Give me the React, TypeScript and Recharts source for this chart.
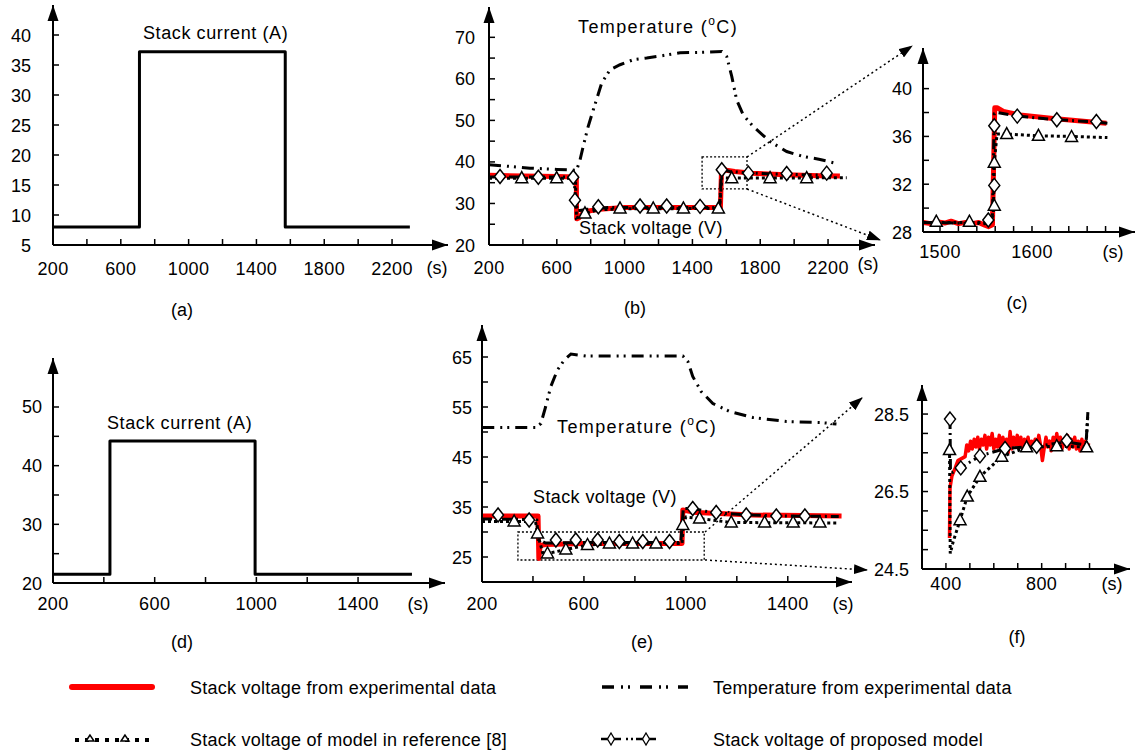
import React from 'react';
import { LineChart, Line, XAxis, YAxis, ReferenceDot, ReferenceArea } from 'recharts';

type Pt = [number, number];

const FONT = '"Liberation Sans", Arial, Helvetica, sans-serif';

// ---- (a) stack current, test 1
const currentA: Pt[] = [[200, 8], [710, 8], [710, 37.2], [1570, 37.2], [1570, 8], [2305, 8]];

// ---- (b) voltage + temperature, test 1
const tempB: Pt[] = [
  [200, 39.3], [300, 39], [442, 38.5], [600, 38.2], [717, 38.0], [737, 40.5], [755, 43.6], [784, 48.4],
  [815, 52.5], [865, 59], [914, 62.2], [973, 63.4], [1050, 64.6], [1130, 65], [1210, 65.5], [1327, 66.3],
  [1463, 66.4], [1573, 66.6], [1602, 65.4], [1632, 60.6], [1661, 54.9], [1700, 51.3], [1759, 48.5],
  [1858, 44.9], [1956, 42.5], [2054, 41.3], [2153, 40.6], [2241, 39.7],
];
const expB: Pt[] = [
  [200, 36.8], [400, 36.6], [600, 36.5], [715, 36.4], [717, 26.3], [730, 26.5], [760, 28.0], [850, 28.6],
  [1000, 29.0], [1200, 29.0], [1400, 29.0], [1565, 29.0], [1572, 38.6], [1600, 38.0], [1650, 37.7],
  [1750, 37.3], [1950, 36.9], [2150, 36.7], [2270, 36.6],
];
const refB: Pt[] = [
  [200, 36.1], [710, 36.1], [716, 26.5], [766, 27.6], [850, 28.5], [1000, 28.7], [1560, 28.8],
  [1573, 36.2], [1632, 36.1], [2310, 36.2],
];
const refMarksB: Pt[] = [
  [393, 36.1], [599, 36.1], [766, 27.6], [973, 28.8], [1169, 28.8], [1347, 28.8], [1553, 28.8],
  [1632, 36.1], [1858, 36.1], [2074, 36.1],
];
const propB: Pt[] = [
  [200, 36.4], [700, 36.4], [712, 30.8], [722, 28.2], [780, 28.6], [900, 29], [1560, 29], [1572, 38.2],
  [1620, 37.7], [1750, 37.3], [1950, 37], [2200, 36.8], [2240, 36.8],
];
const propMarksB: Pt[] = [
  [265, 36.5], [491, 36.3], [697, 36.3], [707, 30.8], [845, 29.2], [1091, 29.4], [1248, 29.4],
  [1445, 29.3], [1573, 38.1], [1730, 37.3], [1956, 37.2], [2192, 37.3],
];

// ---- (c) zoom of (b)
const expC: Pt[] = [
  [1482, 28.8], [1490, 28.7], [1498, 28.85], [1505, 28.75], [1512, 28.9], [1520, 28.7], [1528, 28.8],
  [1535, 28.7], [1542, 28.8], [1548, 28.6], [1553, 28.45], [1557, 28.6], [1559.5, 38.4], [1562, 38.4],
  [1569, 38.1], [1587, 37.8], [1623, 37.5], [1659, 37.25], [1681, 37.1],
];
const refC: Pt[] = [
  [1482, 28.8], [1555, 28.8], [1558, 29.5], [1559, 33.8], [1562, 36.2], [1572.5, 36.2], [1607, 36.05],
  [1643, 36.0], [1682, 35.9],
];
const refMarksC: Pt[] = [
  [1496, 28.86], [1532, 28.86], [1559, 33.8], [1559, 30.2], [1572.5, 36.2], [1607, 36.05], [1643, 35.95],
];
const propC: Pt[] = [
  [1482, 28.8], [1548, 28.7], [1553, 28.8], [1557, 29.2], [1559, 37.9], [1562, 38.0], [1584, 37.7],
  [1627, 37.4], [1670, 37.2], [1682, 37.1],
];
const propMarksC: Pt[] = [
  [1552.5, 29.0], [1559, 36.9], [1559, 31.9], [1584, 37.7], [1627, 37.4], [1670, 37.25],
];

// ---- (d) stack current, test 2
const currentD: Pt[] = [[200, 21.5], [424, 21.5], [424, 44.2], [995, 44.2], [995, 21.5], [1612, 21.5]];

// ---- (e) voltage + temperature, test 2
const tempE: Pt[] = [
  [201, 50.9], [411, 50.9], [431, 51.7], [450, 55.1], [470, 59.1], [496, 62.4], [523, 64.4], [549, 65.6],
  [608, 65.2], [739, 65.2], [844, 65.2], [988, 65.2], [1008, 64.1], [1027, 61.1], [1060, 58.1],
  [1106, 55.7], [1172, 54.1], [1263, 52.9], [1395, 52.1], [1526, 51.9], [1591, 51.6],
];
const expE: Pt[] = [
  [200, 33.2], [420, 33.2], [423, 24.7], [428, 27.3], [450, 27.5], [600, 27.7], [985, 27.7], [988, 34.4],
  [1041, 33.9], [1263, 33.4], [1611, 33.2],
];
const refE: Pt[] = [
  [200, 32.1], [410, 32.1], [418, 29.7], [440, 25.5], [457, 25.7], [529, 26.5], [614, 27.4], [700, 27.6],
  [985, 27.7], [990, 31.4], [1000, 33], [1054, 32.7], [1178, 31.9], [1600, 31.8],
];
const refMarksE: Pt[] = [
  [326, 32.1], [418, 29.7], [457, 25.7], [529, 26.5], [614, 27.4], [700, 27.7], [791, 27.7], [883, 27.7],
  [988, 31.4], [1054, 32.7], [1178, 31.9], [1309, 31.9], [1421, 31.9], [1526, 31.9],
];
const propE: Pt[] = [
  [200, 32.6], [400, 32.5], [415, 32.4], [420, 28.5], [450, 27.8], [600, 27.9], [980, 27.9], [990, 34.7],
  [1027, 34.7], [1100, 33.9], [1250, 33.4], [1400, 33.2], [1600, 33.1],
];
const propMarksE: Pt[] = [
  [263, 33.4], [385, 32.4], [490, 28.4], [568, 28.4], [654, 28.4], [739, 28.1], [831, 28.1], [936, 28.1],
  [1027, 34.7], [1119, 33.9], [1237, 33.4], [1355, 33.2], [1467, 33.2],
];

// ---- (f) zoom of (e)
const expF: Pt[] = [
  [415, 25.3], [417, 26.6], [425, 26.9], [438, 27.1], [450, 27.3], [465, 27.35], [480, 27.4], [487, 27.7],
  [495, 27.55], [503, 27.8], [510, 27.6], [518, 27.85], [525, 27.65], [533, 27.9], [540, 27.6], [548, 27.85],
  [555, 27.7], [563, 27.95], [570, 27.6], [578, 27.9], [585, 27.7], [593, 28.0], [600, 27.6], [608, 27.85],
  [615, 27.65], [623, 27.95], [630, 27.55], [638, 27.9], [645, 27.7], [653, 27.85], [660, 27.5], [668, 28.05],
  [675, 27.6], [683, 27.9], [690, 27.7], [698, 27.95], [705, 27.65], [713, 27.9], [720, 27.6], [728, 27.85],
  [735, 27.7], [743, 27.9], [750, 27.6], [758, 27.8], [765, 27.65], [773, 27.85], [780, 27.65], [788, 27.95],
  [795, 27.7], [803, 27.3], [810, 27.6], [818, 27.9], [825, 27.65], [833, 27.8], [840, 27.55], [848, 27.9],
  [855, 27.65], [863, 28.0], [870, 27.7], [878, 27.9], [885, 27.6], [893, 27.85], [900, 27.7], [908, 27.95],
  [915, 27.6], [923, 27.85], [930, 27.65], [938, 27.9], [945, 27.6], [953, 27.8], [960, 27.55], [968, 27.85],
  [975, 27.6], [983, 27.8], [990, 27.65], [997, 27.75],
];
const refF: Pt[] = [
  [415, 27.6], [418, 24.9], [430, 25.2], [459, 25.76], [489, 26.37], [542, 26.88], [633, 27.4], [737, 27.64],
  [863, 27.67], [985, 27.65], [993, 28.5],
];
const refMarksF: Pt[] = [
  [415, 27.57], [459, 25.76], [489, 26.37], [542, 26.88], [633, 27.4], [737, 27.64], [863, 27.67], [988, 27.64],
];
const propF: Pt[] = [
  [417, 28.37], [419, 27.0], [430, 27.0], [462, 27.11], [542, 27.42], [647, 27.61], [779, 27.67], [905, 27.78],
  [985, 27.7], [993, 28.55],
];
const propMarksF: Pt[] = [[417, 28.37], [462, 27.11], [542, 27.42], [647, 27.61], [779, 27.67], [905, 27.81]];

// tick lists
const range = (a: number, b: number, s: number) => {
  const out: number[] = [];
  for (let v = a; v <= b + 1e-9; v += s) out.push(Math.round(v * 100) / 100);
  return out;
};

const rows = (pts: Pt[]) => pts.map(([x, y]) => ({ x, y }));

const Tri = ({ cx, cy }: any) => (
  <polygon points={`${cx},${cy - 6.5} ${cx - 6},${cy + 4.5} ${cx + 6},${cy + 4.5}`} fill="#fff" stroke="#000" strokeWidth={1.5} />
);
const Dia = ({ cx, cy }: any) => (
  <polygon points={`${cx},${cy - 7} ${cx + 5.5},${cy} ${cx},${cy + 7} ${cx - 5.5},${cy}`} fill="#fff" stroke="#000" strokeWidth={1.5} />
);

const solid = (key: string, pts: Pt[], color: string, w: number) => (
  <Line key={key} data={rows(pts)} dataKey="y" stroke={color} strokeWidth={w} dot={false} activeDot={false}
    isAnimationActive={false} strokeLinejoin="round" />
);
const dashed = (key: string, pts: Pt[], dash: string, w = 3) => (
  <Line key={key} data={rows(pts)} dataKey="y" stroke="#000" strokeWidth={w} strokeDasharray={dash}
    dot={false} activeDot={false} isAnimationActive={false} />
);
const marks = (key: string, pts: Pt[], kind: 'tri' | 'dia') => (
  <Line key={key} data={rows(pts)} dataKey="y" stroke="none" activeDot={false} isAnimationActive={false}
    dot={(p: any) => (kind === 'tri' ? <Tri key={`${key}${p.index}`} cx={p.cx} cy={p.cy} /> : <Dia key={`${key}${p.index}`} cx={p.cx} cy={p.cy} />)} />
);

const TEMP_DASH = '12 6 2 5 2 6';
const REF_DASH = '3 3';
const PROP_DASH = '10 4 2 4';

const PAD = { l: 60, r: 24, t: 16, b: 50 };

const XTick = (props: any) => {
  const { x, y, payload, labels, dy } = props;
  return (
    <g>
      <line x1={x} y1={y} x2={x} y2={y - 6} stroke="#000" strokeWidth={1.5} />
      {labels.includes(payload.value) ? (
        <text x={x} y={y + dy} textAnchor="middle" fontSize={18} fontFamily={FONT} fill="#000" letterSpacing={0.4}>{payload.value}</text>
      ) : null}
    </g>
  );
};

const YTick = (props: any) => {
  const { x, y, payload, labels, dx } = props;
  return (
    <g>
      <line x1={x} y1={y} x2={x + 6} y2={y} stroke="#000" strokeWidth={1.5} />
      {labels.includes(payload.value) ? (
        <text x={x - dx} y={y + 6.5} textAnchor="end" fontSize={18} fontFamily={FONT} fill="#000">{payload.value}</text>
      ) : null}
    </g>
  );
};

const rightArrow = (p: any) => <path d={`M${p.cx},${p.cy} L${p.cx - 16},${p.cy - 5.5} L${p.cx - 16},${p.cy + 5.5} Z`} fill="#000" />;
const upArrow = (p: any) => <path d={`M${p.cx},${p.cy} L${p.cx - 5.5},${p.cy + 16} L${p.cx + 5.5},${p.cy + 16} Z`} fill="#000" />;

interface PanelProps {
  box: [number, number, number, number];
  xDomain: [number, number];
  yDomain: [number, number];
  xTicks: number[];
  xLabels: number[];
  yTicks: number[];
  yLabels: number[];
  xDy: number;
  yDx: number;
  children?: React.ReactNode;
}

const Panel = ({ box, xDomain, yDomain, xTicks, xLabels, yTicks, yLabels, xDy, yDx, children }: PanelProps) => {
  const [x0, y0, x1, y1] = box;
  const width = x1 - x0 + PAD.l + PAD.r;
  const height = y1 - y0 + PAD.t + PAD.b;
  return (
    <div style={{ position: 'absolute', left: x0 - PAD.l, top: y0 - PAD.t }}>
      <LineChart width={width} height={height} margin={{ top: PAD.t, right: PAD.r, bottom: 0, left: 0 }}>
        <XAxis type="number" dataKey="x" domain={xDomain} allowDataOverflow ticks={xTicks} interval={0}
          tickSize={0} tickMargin={0} height={PAD.b} tickLine={false}
          axisLine={{ stroke: '#000', strokeWidth: 2 }}
          tick={(p: any) => <XTick {...p} labels={xLabels} dy={xDy} />} />
        <YAxis type="number" dataKey="y" domain={yDomain} allowDataOverflow ticks={yTicks} interval={0}
          tickSize={0} tickMargin={0} width={PAD.l} tickLine={false}
          axisLine={{ stroke: '#000', strokeWidth: 2 }}
          tick={(p: any) => <YTick {...p} labels={yLabels} dx={yDx} />} />
        {children}
        <ReferenceDot x={xDomain[1]} y={yDomain[0]} r={0} ifOverflow="visible" shape={rightArrow} />
        <ReferenceDot x={xDomain[0]} y={yDomain[1]} r={0} ifOverflow="visible" shape={upArrow} />
      </LineChart>
    </div>
  );
};

const T = (props: any) => <text fontFamily={FONT} fontSize={18} fill="#000" {...props} />;

const App = () => (
  <div style={{ position: 'fixed', left: 0, top: 0, width: 1139, height: 753, background: '#fff', overflow: 'hidden' }}>
    <Panel box={[53, 5, 448, 245]} xDomain={[200, 2530]} yDomain={[5, 45]}
      xTicks={range(200, 2200, 200)} xLabels={[200, 600, 1000, 1400, 1800, 2200]}
      yTicks={range(5, 40, 5)} yLabels={range(5, 40, 5)} xDy={29.5} yDx={22}>
      {[solid('ia', currentA, '#000', 3)]}
    </Panel>

    <Panel box={[489, 7, 875, 245]} xDomain={[200, 2477]} yDomain={[20, 77.3]}
      xTicks={range(200, 2200, 200)} xLabels={[200, 600, 1000, 1400, 1800, 2200]}
      yTicks={range(20, 70, 5)} yLabels={range(20, 70, 10)} xDy={28.5} yDx={14}>
      {[
        dashed('tb', tempB, TEMP_DASH, 3),
        solid('eb', expB, '#ff0000', 5),
        dashed('rb', refB, REF_DASH, 3),
        dashed('pb', propB, PROP_DASH, 3),
        marks('rmb', refMarksB, 'tri'),
        marks('pmb', propMarksB, 'dia'),
        <ReferenceArea key="zb" x1={1457} x2={1722} y1={33.5} y2={41.2} ifOverflow="visible"
          fill="none" stroke="#000" strokeWidth={1.3} strokeDasharray="2 2" />,
      ]}
    </Panel>

    <Panel box={[923, 48, 1135, 232]} xDomain={[1481.5, 1712]} yDomain={[28, 43.4]}
      xTicks={range(1500, 1680, 20)} xLabels={[1500, 1600]}
      yTicks={range(28, 40, 2)} yLabels={[28, 32, 36, 40]} xDy={26} yDx={11}>
      {[
        solid('ec', expC, '#ff0000', 5),
        dashed('rc', refC, REF_DASH, 3),
        dashed('pc', propC, PROP_DASH, 3),
        marks('rmc', refMarksC, 'tri'),
        marks('pmc', propMarksC, 'dia'),
      ]}
    </Panel>

    <Panel box={[53, 358, 445, 583]} xDomain={[200, 1742]} yDomain={[20, 58.35]}
      xTicks={range(200, 1400, 200)} xLabels={[200, 600, 1000, 1400]}
      yTicks={range(20, 50, 5)} yLabels={[20, 30, 40, 50]} xDy={26.5} yDx={11}>
      {[solid('id', currentD, '#000', 3)]}
    </Panel>

    <Panel box={[482, 325, 852, 582]} xDomain={[200, 1652]} yDomain={[20, 71.4]}
      xTicks={range(200, 1400, 200)} xLabels={[200, 600, 1000, 1400]}
      yTicks={range(20, 65, 5)} yLabels={[25, 35, 45, 55, 65]} xDy={27.5} yDx={10}>
      {[
        dashed('te', tempE, TEMP_DASH, 3),
        solid('ee', expE, '#ff0000', 5),
        dashed('re', refE, REF_DASH, 3),
        dashed('pe', propE, PROP_DASH, 3),
        marks('rme', refMarksE, 'tri'),
        marks('pme', propMarksE, 'dia'),
        <ReferenceArea key="ze" x1={341} x2={1072} y1={24.4} y2={30} ifOverflow="visible"
          fill="none" stroke="#000" strokeWidth={1.3} strokeDasharray="2 2" />,
      ]}
    </Panel>

    <Panel box={[922, 385, 1130, 569]} xDomain={[300, 1169]} yDomain={[24.5, 29.25]}
      xTicks={range(400, 1000, 100)} xLabels={[400, 800]}
      yTicks={range(24.5, 28.5, 0.5)} yLabels={[24.5, 26.5, 28.5]} xDy={21} yDx={13}>
      {[
        solid('ef', expF, '#ff0000', 3.5),
        dashed('rf', refF, REF_DASH, 3),
        dashed('pf', propF, PROP_DASH, 3),
        marks('rmf', refMarksF, 'tri'),
        marks('pmf', propMarksF, 'dia'),
      ]}
    </Panel>

    <svg width={1139} height={753} style={{ position: 'absolute', left: 0, top: 0, pointerEvents: 'none' }}>
      <defs>
        <marker id="ah" viewBox="0 0 14 10" refX="13" refY="5" markerWidth="14" markerHeight="10"
          markerUnits="userSpaceOnUse" orient="auto">
          <path d="M0,0 L14,5 L0,10 Z" fill="#000" />
        </marker>
      </defs>

      {/* annotations */}
      <T x={143} y={39} letterSpacing={0.6}>Stack current (A)</T>
      <T x={107} y={429} letterSpacing={0.6}>Stack current (A)</T>
      <T x={578} y={33} letterSpacing={1.4}>Temperature (<tspan fontSize={12} dy={-8}>o</tspan><tspan dy={8}>C)</tspan></T>
      <T x={579} y={234} letterSpacing={0.4}>Stack voltage (V)</T>
      <T x={557} y={433} letterSpacing={1.4}>Temperature (<tspan fontSize={12} dy={-8}>o</tspan><tspan dy={8}>C)</tspan></T>
      <T x={533} y={503} letterSpacing={0.4}>Stack voltage (V)</T>

      {/* time units */}
      <T x={437} y={274} textAnchor="middle">(s)</T>
      <T x={868} y={269.5} textAnchor="middle">(s)</T>
      <T x={1113} y={258} textAnchor="middle">(s)</T>
      <T x={418} y={609.5} textAnchor="middle">(s)</T>
      <T x={843} y={609.5} textAnchor="middle">(s)</T>
      <T x={1112} y={590} textAnchor="middle">(s)</T>

      {/* panel letters */}
      <T x={182} y={316} textAnchor="middle">(a)</T>
      <T x={635} y={314} textAnchor="middle">(b)</T>
      <T x={1017} y={309} textAnchor="middle">(c)</T>
      <T x={182} y={648} textAnchor="middle">(d)</T>
      <T x={642} y={648} textAnchor="middle">(e)</T>
      <T x={1017} y={643} textAnchor="middle">(f)</T>

      {/* zoom connectors */}
      <g stroke="#000" strokeWidth={1.5} strokeDasharray="2 3" fill="none">
        <line x1={747} y1={157} x2={912} y2={46} markerEnd="url(#ah)" />
        <line x1={747} y1={189} x2={880} y2={240} markerEnd="url(#ah)" />
        <line x1={705} y1={532} x2={862} y2={398} markerEnd="url(#ah)" />
        <line x1={705} y1={560} x2={867} y2={570} markerEnd="url(#ah)" />
      </g>

      {/* legend */}
      <line x1={72} y1={687} x2={152} y2={687} stroke="#ff0000" strokeWidth={6} strokeLinecap="round" />
      <T x={190} y={693.5} letterSpacing={0.25}>Stack voltage from experimental data</T>

      <line x1={602} y1={687} x2={688} y2={687} stroke="#000" strokeWidth={3.5} strokeDasharray="12 7 2 5 2 10" />
      <T x={713} y={693.5} letterSpacing={0.25}>Temperature from experimental data</T>

      <line x1={75} y1={740} x2={153} y2={740} stroke="#000" strokeWidth={4} strokeDasharray="4 6" />
      <polygon points="90,735 86,741 94,741" fill="#fff" stroke="#000" strokeWidth={1.5} />
      <polygon points="125,735 121,741 129,741" fill="#fff" stroke="#000" strokeWidth={1.5} />
      <T x={190} y={745.5} letterSpacing={0.25}>Stack voltage of model in reference [8]</T>

      <g stroke="#000" strokeWidth={2.5}>
        <line x1={601} y1={739} x2={608} y2={739} />
        <line x1={614} y1={739} x2={621} y2={739} />
        <line x1={626} y1={739} x2={628} y2={739} />
        <line x1={631} y1={739} x2={633} y2={739} />
        <line x1={636} y1={739} x2={643} y2={739} />
        <line x1={649} y1={739} x2={656} y2={739} />
      </g>
      <polygon points="611,733 614.5,739 611,745 607.5,739" fill="#fff" stroke="#000" strokeWidth={1.3} />
      <polygon points="646,733 649.5,739 646,745 642.5,739" fill="#fff" stroke="#000" strokeWidth={1.3} />
      <T x={713} y={745.5} letterSpacing={0.25}>Stack voltage of proposed model</T>
    </svg>
  </div>
);

export default App;
